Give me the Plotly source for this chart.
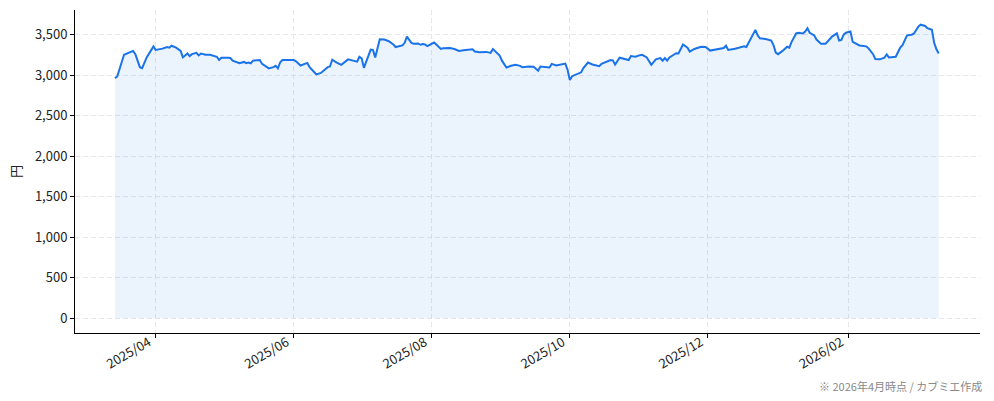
import plotly.graph_objects as go

dates = [
    "2025-03-14", "2025-03-15", "2025-03-18", "2025-03-20", "2025-03-22", "2025-03-23", "2025-03-25", "2025-03-26",
    "2025-03-28", "2025-03-31", "2025-04-01", "2025-04-04", "2025-04-06", "2025-04-07", "2025-04-08", "2025-04-10",
    "2025-04-12", "2025-04-13", "2025-04-14", "2025-04-15", "2025-04-16", "2025-04-17", "2025-04-19", "2025-04-20",
    "2025-04-21", "2025-04-23", "2025-04-25", "2025-04-26", "2025-04-28", "2025-04-29", "2025-04-30", "2025-05-03",
    "2025-05-04", "2025-05-05", "2025-05-07", "2025-05-08", "2025-05-10", "2025-05-11", "2025-05-12", "2025-05-13",
    "2025-05-14", "2025-05-17", "2025-05-18", "2025-05-19", "2025-05-21", "2025-05-23", "2025-05-24", "2025-05-25",
    "2025-05-26", "2025-05-27", "2025-06-01", "2025-06-02", "2025-06-04", "2025-06-07", "2025-06-08", "2025-06-10",
    "2025-06-11", "2025-06-13", "2025-06-14", "2025-06-16", "2025-06-17", "2025-06-18", "2025-06-20", "2025-06-22",
    "2025-06-25", "2025-06-27", "2025-06-29", "2025-06-30", "2025-07-01", "2025-07-02", "2025-07-04", "2025-07-05",
    "2025-07-06", "2025-07-07", "2025-07-09", "2025-07-11", "2025-07-13", "2025-07-15", "2025-07-16", "2025-07-19",
    "2025-07-20", "2025-07-21", "2025-07-23", "2025-07-24", "2025-07-26", "2025-07-27", "2025-07-28", "2025-07-29",
    "2025-07-30", "2025-08-01", "2025-08-02", "2025-08-03", "2025-08-05", "2025-08-06", "2025-08-09", "2025-08-11",
    "2025-08-13", "2025-08-15", "2025-08-19", "2025-08-20", "2025-08-22", "2025-08-25", "2025-08-26", "2025-08-27",
    "2025-08-28", "2025-08-29", "2025-08-31", "2025-09-01", "2025-09-03", "2025-09-05", "2025-09-07", "2025-09-09",
    "2025-09-10", "2025-09-13", "2025-09-15", "2025-09-17", "2025-09-18", "2025-09-22", "2025-09-23", "2025-09-25",
    "2025-09-27", "2025-09-29", "2025-09-30", "2025-10-01", "2025-10-02", "2025-10-04", "2025-10-06", "2025-10-07",
    "2025-10-09", "2025-10-11", "2025-10-14", "2025-10-15", "2025-10-17", "2025-10-19", "2025-10-20", "2025-10-21",
    "2025-10-23", "2025-10-25", "2025-10-27", "2025-10-28", "2025-10-30", "2025-11-01", "2025-11-02", "2025-11-04",
    "2025-11-06", "2025-11-08", "2025-11-10", "2025-11-11", "2025-11-12", "2025-11-13", "2025-11-14", "2025-11-17",
    "2025-11-18", "2025-11-20", "2025-11-22", "2025-11-23", "2025-11-25", "2025-11-28", "2025-11-30", "2025-12-02",
    "2025-12-05", "2025-12-08", "2025-12-09", "2025-12-10", "2025-12-13", "2025-12-15", "2025-12-17", "2025-12-18",
    "2025-12-20", "2025-12-22", "2025-12-23", "2025-12-24", "2025-12-27", "2025-12-29", "2025-12-30", "2025-12-31",
    "2026-01-01", "2026-01-03", "2026-01-05", "2026-01-06", "2026-01-07", "2026-01-09", "2026-01-10", "2026-01-12",
    "2026-01-13", "2026-01-14", "2026-01-15", "2026-01-17", "2026-01-18", "2026-01-20", "2026-01-22", "2026-01-25",
    "2026-01-27", "2026-01-28", "2026-01-29", "2026-01-30", "2026-01-31", "2026-02-02", "2026-02-03", "2026-02-04",
    "2026-02-06", "2026-02-09", "2026-02-10", "2026-02-12", "2026-02-13", "2026-02-15", "2026-02-17", "2026-02-18",
    "2026-02-19", "2026-02-22", "2026-02-24", "2026-02-25", "2026-02-27", "2026-03-01", "2026-03-02", "2026-03-04",
    "2026-03-05", "2026-03-07", "2026-03-08", "2026-03-10", "2026-03-11", "2026-03-12", "2026-03-13",
]

prices = [
    2965, 2985, 3252, 3276, 3300, 3260, 3100, 3088,
    3220, 3356, 3312, 3328, 3348, 3340, 3364, 3340,
    3300, 3220, 3240, 3268, 3236, 3260, 3276, 3244,
    3268, 3252, 3252, 3244, 3228, 3188, 3216, 3216,
    3212, 3180, 3152, 3148, 3164, 3148, 3156, 3148,
    3180, 3188, 3140, 3120, 3084, 3100, 3116, 3084,
    3160, 3188, 3188, 3172, 3120, 3152, 3100, 3040,
    3010, 3028, 3052, 3100, 3108, 3192, 3156, 3128,
    3196, 3180, 3168, 3228, 3208, 3092, 3228, 3316,
    3312, 3220, 3444, 3440, 3420, 3380, 3348, 3368,
    3400, 3476, 3400, 3388, 3392, 3376, 3384, 3380,
    3360, 3388, 3404, 3380, 3324, 3332, 3336, 3324,
    3300, 3308, 3320, 3292, 3284, 3288, 3280, 3276,
    3324, 3300, 3244, 3180, 3096, 3116, 3128, 3116,
    3100, 3108, 3104, 3056, 3108, 3096, 3140, 3120,
    3136, 3144, 3068, 2940, 2988, 3012, 3036, 3088,
    3156, 3132, 3112, 3140, 3168, 3188, 3184, 3132,
    3216, 3204, 3188, 3236, 3228, 3248, 3252, 3220,
    3128, 3196, 3212, 3180, 3212, 3180, 3220, 3272,
    3268, 3380, 3340, 3292, 3324, 3352, 3348, 3304,
    3324, 3336, 3364, 3312, 3328, 3340, 3356, 3348,
    3460, 3560, 3492, 3456, 3444, 3428, 3372, 3280,
    3260, 3300, 3352, 3340, 3412, 3516, 3524, 3516,
    3540, 3580, 3524, 3492, 3440, 3388, 3388, 3480,
    3516, 3428, 3436, 3500, 3524, 3540, 3412, 3400,
    3368, 3356, 3332, 3260, 3200, 3196, 3216, 3256,
    3220, 3228, 3340, 3372, 3492, 3500, 3512, 3600,
    3624, 3608, 3580, 3560, 3400, 3320, 3268,
]

x_ticks = ["2025-04-01", "2025-06-01", "2025-08-01", "2025-10-01", "2025-12-01", "2026-02-01"]
x_tick_labels = ["2025/04", "2025/06", "2025/08", "2025/10", "2025/12", "2026/02"]
y_ticks = [0, 500, 1000, 1500, 2000, 2500, 3000, 3500]
y_tick_labels = ["0", "500", "1,000", "1,500", "2,000", "2,500", "3,000", "3,500"]

y_label = "円"
footnote = "※ 2026年4月時点 / カブミエ作成"

FONT = "Noto Sans CJK JP, Noto Sans, DejaVu Sans, sans-serif"

fig = go.Figure()
fig.add_trace(go.Scatter(
    x=dates, y=prices, mode="lines",
    line=dict(color="#1a73e8", width=2),
    fill="tozeroy", fillcolor="rgba(26,115,232,0.085)",
    hoverinfo="x+y", showlegend=False,
))

grid = "#e6e6ec"
fig.update_layout(
    width=994, height=401,
    margin=dict(l=75, r=14, t=10, b=68),
    paper_bgcolor="white", plot_bgcolor="white",
    font=dict(family=FONT, size=13, color="#222222"),
    xaxis=dict(
        range=["2025-02-24 08:00", "2026-03-31 06:00"],
        tickmode="array", tickvals=x_ticks, ticktext=x_tick_labels,
        tickangle=-30, ticks="outside", ticklen=4, tickcolor="black",
        ticklabelshift=-7, ticklabelstandoff=-8,
        showline=True, linecolor="black", linewidth=1,
        showgrid=True, gridcolor=grid, griddash="5px,3px", gridwidth=1,
        zeroline=False, automargin=False,
        tickfont=dict(size=13, color="#222222"),
    ),
    yaxis=dict(
        range=[-181, 3805],
        tickmode="array", tickvals=y_ticks, ticktext=y_tick_labels,
        ticks="outside", ticklen=4, tickcolor="black",
        showline=True, linecolor="black", linewidth=1,
        showgrid=True, gridcolor=grid, griddash="5px,3px", gridwidth=1,
        zeroline=False, automargin=False,
        title=dict(text=y_label, standoff=10, font=dict(size=13)),
        tickfont=dict(size=13, color="#222222"),
    ),
    annotations=[dict(
        text=footnote, xref="paper", yref="paper",
        x=1.0, y=0, xanchor="right", yanchor="top",
        xshift=4, yshift=-43,
        showarrow=False, font=dict(size=11, color="#888888"),
    )],
)

fig.write_html(
    "out.html",
    config={"displayModeBar": False},
    post_script="document.body.style.margin='0px';document.body.style.padding='0px';",
)
